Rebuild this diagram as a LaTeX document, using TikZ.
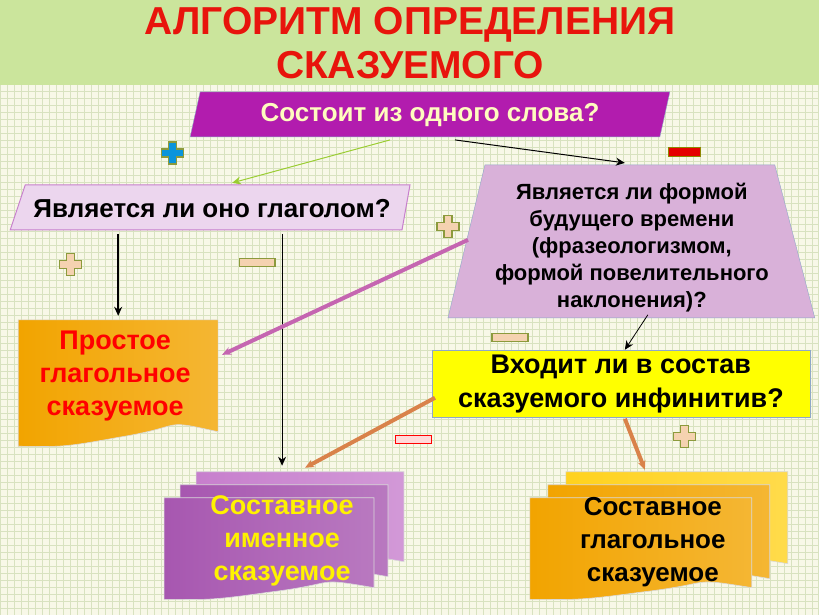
\documentclass[tikz,border=0pt]{standalone}
\usepackage{fontspec}
\setmainfont{Liberation Sans}
\usetikzlibrary{calc,arrows.meta}
\definecolor{bgcol}{HTML}{F8F8E8}
\definecolor{gridcol}{HTML}{D8E2C0}
\definecolor{titlecol}{HTML}{CBE59C}
\definecolor{titletext}{HTML}{E8140C}
\definecolor{purp}{HTML}{B21CAE}
\definecolor{lila}{HTML}{ECD6EE}
\definecolor{lilb}{HTML}{D9B1D9}
\definecolor{yel}{HTML}{FFFF00}
\definecolor{orng}{HTML}{F2A400}
\definecolor{orngl}{HTML}{FFD21E}
\definecolor{viol}{HTML}{A757B0}
\definecolor{violl}{HTML}{C77FCD}
\definecolor{frame}{HTML}{8FA8C8}
\definecolor{beige}{HTML}{F5D2B0}
\definecolor{signedge}{HTML}{8C9A3C}
\definecolor{lgreen}{HTML}{9ACD32}
\definecolor{arrorng}{HTML}{D9824A}
\tikzset{
  txt/.style={font=\bfseries, align=center, inner sep=0pt},
  arr/.style={-{Stealth[length=9pt,width=8pt]}},
  plussign/.style={fill=#1, draw=signedge, line width=1.2pt},
  minussign/.style={fill=#1, draw=signedge, line width=1.2pt},
}
% one wavy sheet
\newcommand{\sheet}[5]{%
  \path[draw=white!70!gray, line width=0.6pt, left color=#5, right color=#5!80!white]
    (#1,#2) -- ++(#3,0) -- ++(0,#4)
    .. controls +(-0.3*#3,-0.12*#4) and +(0.35*#3,-0.1*#4) .. ++(-0.5*#3,0.05*#4)
    .. controls +(-0.3*#3,0.1*#4) and +(0.2*#3,0) .. ++(-0.5*#3,0.08*#4) -- cycle;}
\begin{document}
\begin{tikzpicture}[x=1pt,y=-1pt]
    % background %
    \fill[bgcol] (0,0) rectangle (819,615);
    \draw[gridcol, step=7pt, line width=0.5pt] (0,84) grid (819,615);
    \useasboundingbox (0,0) rectangle (819,615);
    % title %
    \fill[titlecol] (0,0) rectangle (819,85);
    \node[txt, text=titletext, font=\bfseries\fontsize{39}{44}\selectfont] (title) at (410,43)
        {АЛГОРИТМ ОПРЕДЕЛЕНИЯ\\СКАЗУЕМОГО};
    % questions %
    \fill[purp, draw=frame] (200,92) -- (670,92) -- (660,137) -- (190,137) -- cycle;
    \node[txt, text=yellow!25, font=\bfseries\fontsize{26}{30}\selectfont] (q1) at (430,115) {Состоит из одного слова?};
    \fill[lila, draw=violl, line width=1pt] (25,185) -- (410,185) -- (402,230) -- (10,230) -- cycle;
    \node[txt, font=\bfseries\fontsize{26}{30}\selectfont] (q2) at (212,209) {Является ли оно глаголом?};
    \fill[lilb, draw=frame] (485,165) -- (775,165) -- (815,318) -- (448,318) -- cycle;
    \node[txt, font=\bfseries\fontsize{22}{27}\selectfont] (q3) at (632,248)
        {Является ли формой\\будущего времени\\(фразеологизмом,\\формой повелительного\\наклонения)?};
    \fill[yel, draw=frame] (432,350) rectangle (810,417);
    \node[txt, font=\bfseries\fontsize{27}{34}\selectfont] (q4) at (621,384)
        {Входит ли в состав\\сказуемого инфинитив?};
    % answers %
    \sheet{18}{320}{200}{112}{orng}
    \node[txt, text=red, font=\bfseries\fontsize{27}{33}\selectfont] (a1) at (115,376)
        {Простое\\глагольное\\сказуемое};
    \sheet{196}{472}{208}{90}{violl}
    \sheet{180}{485}{208}{92}{viol}
    \sheet{164}{498}{210}{90}{viol}
    \node[txt, text=yellow, font=\bfseries\fontsize{27}{33}\selectfont] (a2) at (282,541)
        {Составное\\именное\\сказуемое};
    \sheet{566}{472}{222}{92}{orngl}
    \sheet{548}{485}{222}{94}{orng}
    \sheet{530}{498}{222}{90}{orng}
    \node[txt, font=\bfseries\fontsize{26}{33}\selectfont] (a3) at (653,542)
        {Составное\\глагольное\\сказуемое};
    % connectors %
    \coordinate (q1l) at (390,140);
    \coordinate (q1r) at (455,140);
    \coordinate (q2t) at (232,183);
    \coordinate (q3t) at (625,163);
    \coordinate (q2l) at (118,234);
    \coordinate (a1t) at (118,316);
    \coordinate (q2r) at (282,234);
    \coordinate (a2t) at (282,466);
    \coordinate (q3l) at (468,240);
    \coordinate (a1r) at (222,355);
    \coordinate (q3b) at (648,315);
    \coordinate (q4t) at (625,350);
    \coordinate (q4l) at (435,398);
    \coordinate (a2r) at (305,468);
    \coordinate (q4b) at (625,419);
    \coordinate (a3t) at (645,470);
    \draw[arr, lgreen, line width=1pt] (q1l) -- (q2t);
    \draw[arr, black, line width=1pt] (q1r) -- (q3t);
    \draw[arr, black, line width=2.5pt] (q2l) -- (a1t);
    \draw[arr, black, line width=0.8pt] (q2r) -- (a2t);
    \draw[arr, violl!80!purple, line width=4pt] (q3l) -- (a1r);
    \draw[arr, black, line width=0.8pt] (q3b) -- (q4t);
    \draw[arr, arrorng, line width=4pt] (q4l) -- (a2r);
    \draw[arr, arrorng, line width=4pt] (q4b) -- (a3t);
    % signs %
    \foreach \x/\y/\c in {172/153/cyan!80!blue, 70/265/beige, 448/227/beige, 685/437/beige}
        \path[plussign=\c] (\x-4,\y-11) -- ++(8,0) -- ++(0,7) -- ++(7,0) -- ++(0,8) -- ++(-7,0)
            -- ++(0,7) -- ++(-8,0) -- ++(0,-7) -- ++(-7,0) -- ++(0,-8) -- ++(7,0) -- cycle;
    \foreach \x/\y/\c in {257/263/beige, 510/338/beige}
        \path[minussign=\c] (\x-18,\y-4) rectangle (\x+18,\y+4);
    \path[fill=red!90!black, draw=olive, line width=1pt] (669,148) rectangle (701,157);
    \path[fill=pink!60, draw=red, line width=1pt] (395,436) rectangle (432,444);
\end{tikzpicture}
\end{document}
